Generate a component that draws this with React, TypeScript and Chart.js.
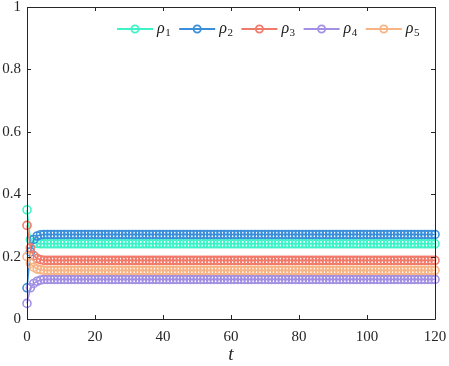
import React, { useEffect, useRef } from "react";
import { Chart, registerables } from "chart.js";

Chart.register(...registerables);

// time steps 0..120
const tValues: number[] = Array.from({ length: 121 }, (_, i) => i);

const rho1Start = [0.35, 0.255, 0.245, 0.242];
const rho1Steady = 0.241;
const rho2Start = [0.1, 0.215, 0.255, 0.266, 0.27];
const rho2Steady = 0.271;
const rho3Start = [0.3, 0.228, 0.203, 0.194, 0.19];
const rho3Steady = 0.188;
const rho4Start = [0.05, 0.1, 0.114, 0.121, 0.125];
const rho4Steady = 0.127;
const rho5Start = [0.2, 0.178, 0.166, 0.16, 0.158];
const rho5Steady = 0.156;

const seriesNames = ["1", "2", "3", "4", "5"];
const seriesColors = ["#3ff3c8", "#3b8fda", "#f07b6b", "#a390e4", "#f8b385"];

const yTickLabels: Record<string, string> = {
  "0": "0",
  "0.2": "0.2",
  "0.4": "0.4",
  "0.6": "0.6",
  "0.8": "0.8",
  "1": "1",
};
const xTickValues = [0, 20, 40, 60, 80, 100, 120];
const yTickValues = [0, 0.2, 0.4, 0.6, 0.8, 1];

function buildSeries(start: number[], steady: number): number[] {
  const out = start.slice();
  while (out.length < tValues.length) out.push(steady);
  return out;
}

const allSeries = [
  buildSeries(rho1Start, rho1Steady),
  buildSeries(rho2Start, rho2Steady),
  buildSeries(rho3Start, rho3Steady),
  buildSeries(rho4Start, rho4Steady),
  buildSeries(rho5Start, rho5Steady),
];

const FONT = '"Times New Roman", Tinos, "Liberation Serif", serif';
const AXIS_COLOR = "#262626";

const framePlugin = {
  id: "frameTicksLegend",
  afterDraw(chart: any) {
    const ctx = chart.ctx as CanvasRenderingContext2D;
    const { left, right, top, bottom } = chart.chartArea;
    const xs = chart.scales.x;
    const ys = chart.scales.y;
    ctx.save();
    ctx.strokeStyle = AXIS_COLOR;
    ctx.lineWidth = 1;
    ctx.beginPath();
    ctx.rect(Math.round(left) + 0.5, Math.round(top) + 0.5, Math.round(right - left), Math.round(bottom - top));
    ctx.stroke();
    const tl = 4;
    ctx.beginPath();
    for (const v of xTickValues) {
      const px = Math.round(xs.getPixelForValue(v)) + 0.5;
      ctx.moveTo(px, bottom);
      ctx.lineTo(px, bottom - tl);
      ctx.moveTo(px, top);
      ctx.lineTo(px, top + tl);
    }
    for (const v of yTickValues) {
      const py = Math.round(ys.getPixelForValue(v)) + 0.5;
      ctx.moveTo(left, py);
      ctx.lineTo(left + tl, py);
      ctx.moveTo(right, py);
      ctx.lineTo(right - tl, py);
    }
    ctx.stroke();

    // legend
    const startX = 117;
    const step = 62.2;
    const ly = 29;
    chart.data.datasets.forEach((ds: any, i: number) => {
      const x0 = startX + i * step;
      ctx.strokeStyle = ds.borderColor;
      ctx.lineWidth = 1.8;
      ctx.beginPath();
      ctx.moveTo(x0, ly);
      ctx.lineTo(x0 + 36, ly);
      ctx.stroke();
      ctx.beginPath();
      ctx.arc(x0 + 18, ly, 3.6, 0, Math.PI * 2);
      ctx.stroke();
      ctx.fillStyle = "#1a1a1a";
      ctx.textBaseline = "alphabetic";
      ctx.textAlign = "left";
      ctx.font = `italic 16px ${FONT}`;
      ctx.fillText("\u03C1", x0 + 40, ly + 4);
      const w = ctx.measureText("\u03C1").width;
      ctx.font = `11px ${FONT}`;
      ctx.fillText(seriesNames[i], x0 + 40 + w + 0.5, ly + 7);
    });
    ctx.restore();
  },
};

export default function App() {
  const ref = useRef<HTMLCanvasElement | null>(null);
  useEffect(() => {
    if (!ref.current) return;
    const chart = new Chart(ref.current, {
      type: "line",
      data: {
        datasets: allSeries.map((s, i) => ({
          label: "\u03C1" + seriesNames[i],
          data: s.map((v, k) => ({ x: tValues[k], y: v })),
          borderColor: seriesColors[i],
          backgroundColor: "rgba(0,0,0,0)",
          pointBackgroundColor: "rgba(0,0,0,0)",
          pointBorderColor: seriesColors[i],
          pointRadius: 4,
          pointBorderWidth: 1.6,
          borderWidth: 1.6,
          tension: 0,
          clip: false,
          order: 5 - i,
        })),
      },
      options: {
        animation: false,
        responsive: false,
        devicePixelRatio: 1,
        layout: { padding: { top: 7, right: 14, left: 0, bottom: 0 } },
        plugins: {
          legend: { display: false },
          tooltip: { enabled: false },
        },
        scales: {
          x: {
            type: "linear",
            min: 0,
            max: 120,
            afterFit: (scale: any) => {
              scale.height = 47;
              scale.paddingLeft = 0;
              scale.paddingRight = 0;
            },
            ticks: {
              stepSize: 20,
              padding: 9,
              color: AXIS_COLOR,
              font: { family: FONT, size: 15 },
              maxRotation: 0,
            },
            grid: { display: false, drawTicks: false },
            border: { display: false },
            title: {
              display: true,
              text: "t",
              color: AXIS_COLOR,
              font: { family: FONT, size: 19, style: "italic" },
              padding: { top: 0, bottom: 0 },
            },
          },
          y: {
            type: "linear",
            min: 0,
            max: 1,
            afterFit: (scale: any) => {
              scale.width = 27;
              scale.paddingTop = 0;
              scale.paddingBottom = 0;
            },
            ticks: {
              stepSize: 0.2,
              padding: 6,
              color: AXIS_COLOR,
              font: { family: FONT, size: 15 },
              callback: (v: any) => yTickLabels[String(Math.round(Number(v) * 10) / 10)] ?? "",
            },
            grid: { display: false, drawTicks: false },
            border: { display: false },
          },
        },
      },
      plugins: [framePlugin],
    });
    return () => chart.destroy();
  }, []);
  return (
    <div style={{ position: "absolute", left: 0, top: 0, width: 449, height: 366, background: "#fff" }}>
      <canvas ref={ref} width={449} height={366} style={{ display: "block" }} />
    </div>
  );
}
